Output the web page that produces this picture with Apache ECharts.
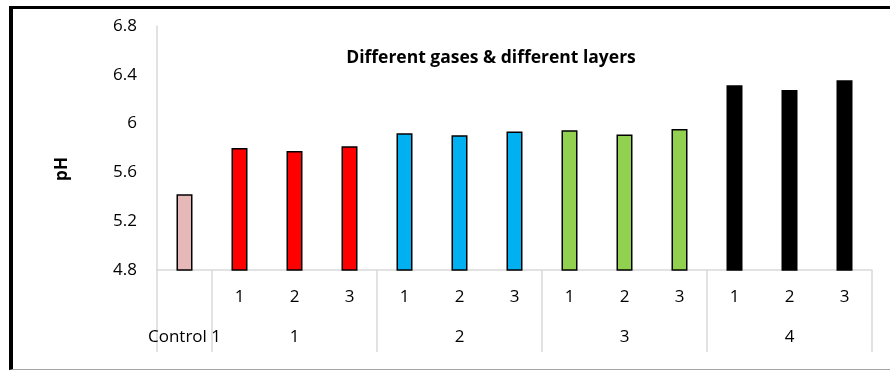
<!DOCTYPE html>
<html>
<head>
<meta charset="utf-8">
<script src="https://cdn.jsdelivr.net/npm/echarts@6/dist/echarts.min.js"></script>
<style>
  html, body { margin: 0; padding: 0; background: #fff; }
  #frame { position: absolute; left: 9px; top: 6px; width: 900px; height: 364px;
           border-top: 3px solid #000; border-left: 4px solid #000; border-bottom: 1px solid #a6a6a6; box-sizing: border-box; }
  #chart { position: absolute; left: 0; top: 0; width: 890px; height: 371px; }
</style>
</head>
<body>
<div id="frame"></div>
<div id="chart"></div>
<script>
// ---- data ----
const innerLabels = ['', '1', '2', '3', '1', '2', '3', '1', '2', '3', '1', '2', '3'];
const groupLabels = ['Control 1', '1', '2', '3', '4'];
const groupSizes = [1, 3, 3, 3, 3];
const phValues = [5.42, 5.80, 5.775, 5.815, 5.92, 5.905, 5.935, 5.945, 5.91, 5.955, 6.315, 6.275, 6.355];
const yTicks = [4.8, 5.2, 5.6, 6, 6.4, 6.8];
const titleText = 'Different gases & different layers';
const yName = 'pH';

// ---- styles ----
const groupColors = ['#E6B9B8', '#FF0000', '#00B0F0', '#92D050', '#000000'];
const FONT = 'Open Sans';
const LABEL_SIZE = 17;

// derived: outer labels, boundaries, bar colours
const outerLabels = [];
const boundaryIdx = new Set();
const barColors = [];
let start = 0;
groupSizes.forEach((n, g) => {
  boundaryIdx.add(start);
  for (let i = 0; i < n; i++) {
    outerLabels.push(i === Math.floor(n / 2) ? groupLabels[g] : '');
    barColors.push(groupColors[g]);
  }
  start += n;
});

const chart = echarts.init(document.getElementById('chart'), null, { renderer: 'canvas' });
chart.setOption({
  backgroundColor: 'transparent',
  animation: false,
  title: {
    text: titleText,
    left: 486, top: 44, textAlign: 'center',
    textStyle: { fontFamily: FONT, fontWeight: 'bold', fontSize: 17.5, color: '#000' }
  },
  grid: { left: 157, right: 18, top: 26, bottom: 101, containLabel: false },
  xAxis: [
    {
      type: 'category',
      data: innerLabels,
      position: 'bottom',
      axisLine: { show: true, lineStyle: { color: '#D9D9D9', width: 1.5 } },
      axisTick: {
        show: true, length: 82,
        interval: (idx) => boundaryIdx.has(idx),
        lineStyle: { color: '#D9D9D9', width: 1.5 }
      },
      axisLabel: { interval: 0, margin: 19, fontFamily: FONT, fontSize: LABEL_SIZE, color: '#000' },
      splitLine: { show: false }
    },
    {
      type: 'category',
      data: outerLabels,
      position: 'bottom',
      offset: 40,
      axisLine: { show: false },
      axisTick: { show: false },
      axisLabel: { interval: 0, margin: 19, fontFamily: FONT, fontSize: LABEL_SIZE, color: '#000' },
      splitLine: { show: false }
    }
  ],
  yAxis: {
    type: 'value',
    min: yTicks[0], max: yTicks[yTicks.length - 1], interval: 0.4,
    axisLine: { show: true, lineStyle: { color: '#D9D9D9', width: 1.5 } },
    axisTick: { show: false },
    splitLine: { show: false },
    axisLabel: {
      margin: 20, fontFamily: FONT, fontSize: LABEL_SIZE, color: '#000',
      formatter: (v) => String(Math.round(v * 10) / 10)
    }
  },
  graphic: [{
    type: 'text', x: 62, y: 169, rotation: Math.PI / 2,
    style: { text: yName, font: 'bold 17px "Open Sans"', fill: '#000', align: 'center', verticalAlign: 'middle' }
  }],
  series: [{
    type: 'bar',
    xAxisIndex: 0,
    barWidth: 16,
    data: phValues.map((v, i) => ({ value: v, itemStyle: { color: barColors[i] } })),
    itemStyle: { borderColor: '#000', borderWidth: 1.5 }
  }]
});
</script>
</body>
</html>
